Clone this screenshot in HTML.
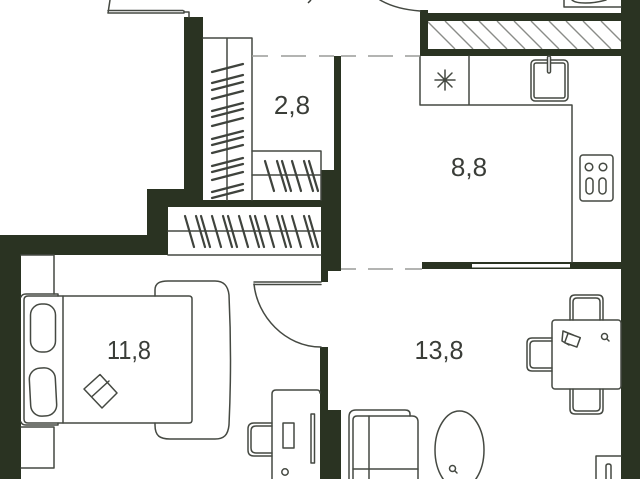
<!DOCTYPE html>
<html><head><meta charset="utf-8"><style>
html,body{margin:0;padding:0;background:#fff;width:640px;height:479px;overflow:hidden}
svg{display:block}
text{font-family:"Liberation Sans",sans-serif;font-size:26px;fill:#3a3d38;text-anchor:middle}
</style></head><body>
<svg width="640" height="479" viewBox="0 0 640 479" xmlns="http://www.w3.org/2000/svg">
<defs><clipPath id="hc"><rect x="428" y="21" width="193" height="28"/></clipPath></defs>
<rect width="640" height="479" fill="#fff"/>
<!-- hatch -->
<g stroke="#8a8c88" stroke-width="1.4" fill="none" clip-path="url(#hc)">
<path d="M427 21l28 28M445 21l28 28M462 21l28 28M479 21l28 28M497 21l28 28M514 21l28 28M531 21l28 28M549 21l28 28M566 21l28 28M583 21l28 28M601 21l28 28"/>
</g>
<!-- walls -->
<g fill="#2a3322">
<rect x="621" y="0" width="19" height="479"/>
<rect x="420" y="13" width="201" height="8"/>
<rect x="420" y="10" width="8" height="46"/>
<rect x="420" y="49" width="201" height="7"/>
<rect x="184" y="17" width="19" height="190"/>
<rect x="147" y="189" width="40" height="18"/>
<rect x="147" y="189" width="21" height="66"/>
<rect x="0" y="235" width="168" height="20"/>
<rect x="0" y="235" width="21" height="244"/>
<rect x="203" y="200" width="118" height="7"/>
<rect x="334" y="56" width="7" height="115"/>
<rect x="321" y="170" width="20" height="101"/>
<rect x="321" y="270" width="7" height="12"/>
<rect x="320" y="347" width="8" height="132"/>
<rect x="328" y="410" width="13" height="69"/>
<rect x="422" y="262" width="199" height="7"/>
</g>
<!-- window in kitchen wall -->
<rect x="472" y="264" width="98" height="3.5" fill="#fff"/>
<g fill="none" stroke="#454942" stroke-width="1.5" stroke-linejoin="round" stroke-linecap="round">
<!-- balcony door top -->
<path d="M110 0L108 13H184V11M108 10.500H183"/>
<path d="M184 12h5v5"/>
<!-- door arcs -->
<path d="M380 0C392 7 406 10 420 11"/>
<path d="M254 284C257 316 285 347 321 347"/>
<path d="M254 282H321M254 284.500H321"/>
<!-- wardrobe -->
<path d="M203 38H252V200M227 38V200"/>
<path d="M252 151H321V200M252 175H321"/>
<path d="M168 255H321M168 231H321"/>
<!-- kitchen -->
<path d="M420 56V105H572V262M469 56V105"/>
<path d="M435 80h20M445 70v20M438 73l14 14M452 73l-14 14"/>
<rect x="531" y="60" width="37" height="41" rx="4"/>
<rect x="534" y="63" width="31" height="35" rx="2"/>
<rect x="547.500" y="56" width="3" height="17" rx="1.500" fill="#fff"/>
<rect x="580" y="155" width="33" height="46" rx="3"/>
<circle cx="589" cy="167" r="3.800"/><circle cx="603" cy="167" r="3.800"/>
<rect x="586" y="178" width="7" height="16" rx="3.500"/><rect x="599" y="178" width="7" height="16" rx="3.500"/>
<path d="M564 0V7H621M572 0C576 4 592 4 606 0"/>
<!-- bed -->
<path d="M155 296V290C155 283 160 281 168 281H215C224 281 228 286 229 295Q232 360 229 425C228 435 224 439 215 439H170C160 439 155 436 155 425V423"/>
<path d="M63 296H189Q192 296 192 299V420Q192 423 189 423H63"/>
<path d="M63 296H28Q24 296 24 300V419Q24 423 28 423H63V296"/>
<path d="M21 297Q22 294 26 294H58V296M21 422Q22 425 26 425H58V423"/>
<rect x="30.500" y="304" width="25" height="48" rx="11"/>
<rect x="30" y="368" width="26" height="48" rx="11" transform="rotate(-3 43 392)"/>
<path d="M21 255H54V294M21 427H54V468H21"/>
<path d="M100 374.500L117 393L102 408L84 389Z M92 396.500L109 381"/>
<!-- desk -->
<path d="M272 479V394Q272 390 276 390H317Q320 390 320 393"/>
<path d="M272 423H254Q248 423 248 429V450Q248 456 254 456H272"/>
<path d="M272 426H256Q251 426 251 431V448Q251 453 256 453H272"/>
<rect x="283" y="423" width="11" height="25"/>
<rect x="311" y="414" width="3.500" height="49"/>
<circle cx="285" cy="472" r="3.200"/>
<!-- table -->
<rect x="552" y="320" width="69" height="69" rx="3"/>
<path d="M570 320V300Q570 295 575 295H598Q603 295 603 300V320"/>
<path d="M573 320V302Q573 298 577 298H596Q600 298 600 302V320"/>
<path d="M552 338H532Q527 338 527 343V366Q527 371 532 371H552"/>
<path d="M552 341H534Q530 341 530 345V364Q530 368 534 368H552"/>
<path d="M570 389V409Q570 414 575 414H598Q603 414 603 409V389"/>
<path d="M573 389V407Q573 411 577 411H596Q600 411 600 407V389"/>
<path d="M563 331L573 335L569 345L562 341Z"/>
<rect x="566" y="335" width="13" height="10" transform="rotate(20 572 340)" fill="#fff"/>
<circle cx="604.500" cy="336.500" r="3"/><path d="M607 339l2 2"/>
<!-- sofa -->
<path d="M349 479V417Q349 410 356 410H405Q410 410 410 414V416"/>
<path d="M353 479V420Q353 416 357 416H412Q418 416 418 422V479"/>
<path d="M369 416V479M353 469H418"/>
<ellipse cx="459.500" cy="450" rx="24.500" ry="39"/>
<circle cx="452.500" cy="468.500" r="3"/><path d="M455 471l2 2"/>
<!-- bottom-right cabinet -->
<path d="M621 456H596V479"/>
<path d="M606 479V466Q606 464 608.500 464Q611 464 611 466V479"/>
</g>
<!-- hatch strokes -->
<g stroke="#3f433d" stroke-width="2.200" fill="none" stroke-linecap="round">
<path d="M212 72L243 64M212 83L243 75M212 90L243 82M212 99L243 91M212 111L243 103M212 117L243 109M212 126L243 118M212 139L243 131M212 145L243 137M212 153L243 145M212 166L243 158M212 172L243 164M212 180L243 172M212 192L243 184M212 198L243 190"/>
<path d="M265 161L274 191M277 161L286 191M282 161L291 191M292 161L301 191M304 161L313 191M309 161L318 191"/>
<path d="M185 216L194 247M196 216L205 247M201 216L210 247M212 216L221 247M223 216L232 247M228 216L237 247M239 216L248 247M250 216L259 247M255 216L264 247M265 216L274 247M277 216L286 247M282 216L291 247M292 216L301 247M304 216L313 247M309 216L318 247"/>
</g>
<!-- dashed -->
<g stroke="#9a9c98" stroke-width="1.500" fill="none">
<path d="M252 56H268M281 56H306M319 56H334"/>
<path d="M341 56H356M368 56H393M405 56H420"/>
<path d="M341 269H356M368 269H393M405 269H422"/>
</g>
<path d="M311 0L308 3" stroke="#3a3d38" stroke-width="1.500" fill="none"/>
<text x="292" y="114">2,8</text>
<text x="469" y="176">8,8</text>
<text x="129" y="359" textLength="44" lengthAdjust="spacingAndGlyphs">11,8</text>
<text x="439" y="359" textLength="49" lengthAdjust="spacingAndGlyphs">13,8</text>
</svg>
</body></html>
